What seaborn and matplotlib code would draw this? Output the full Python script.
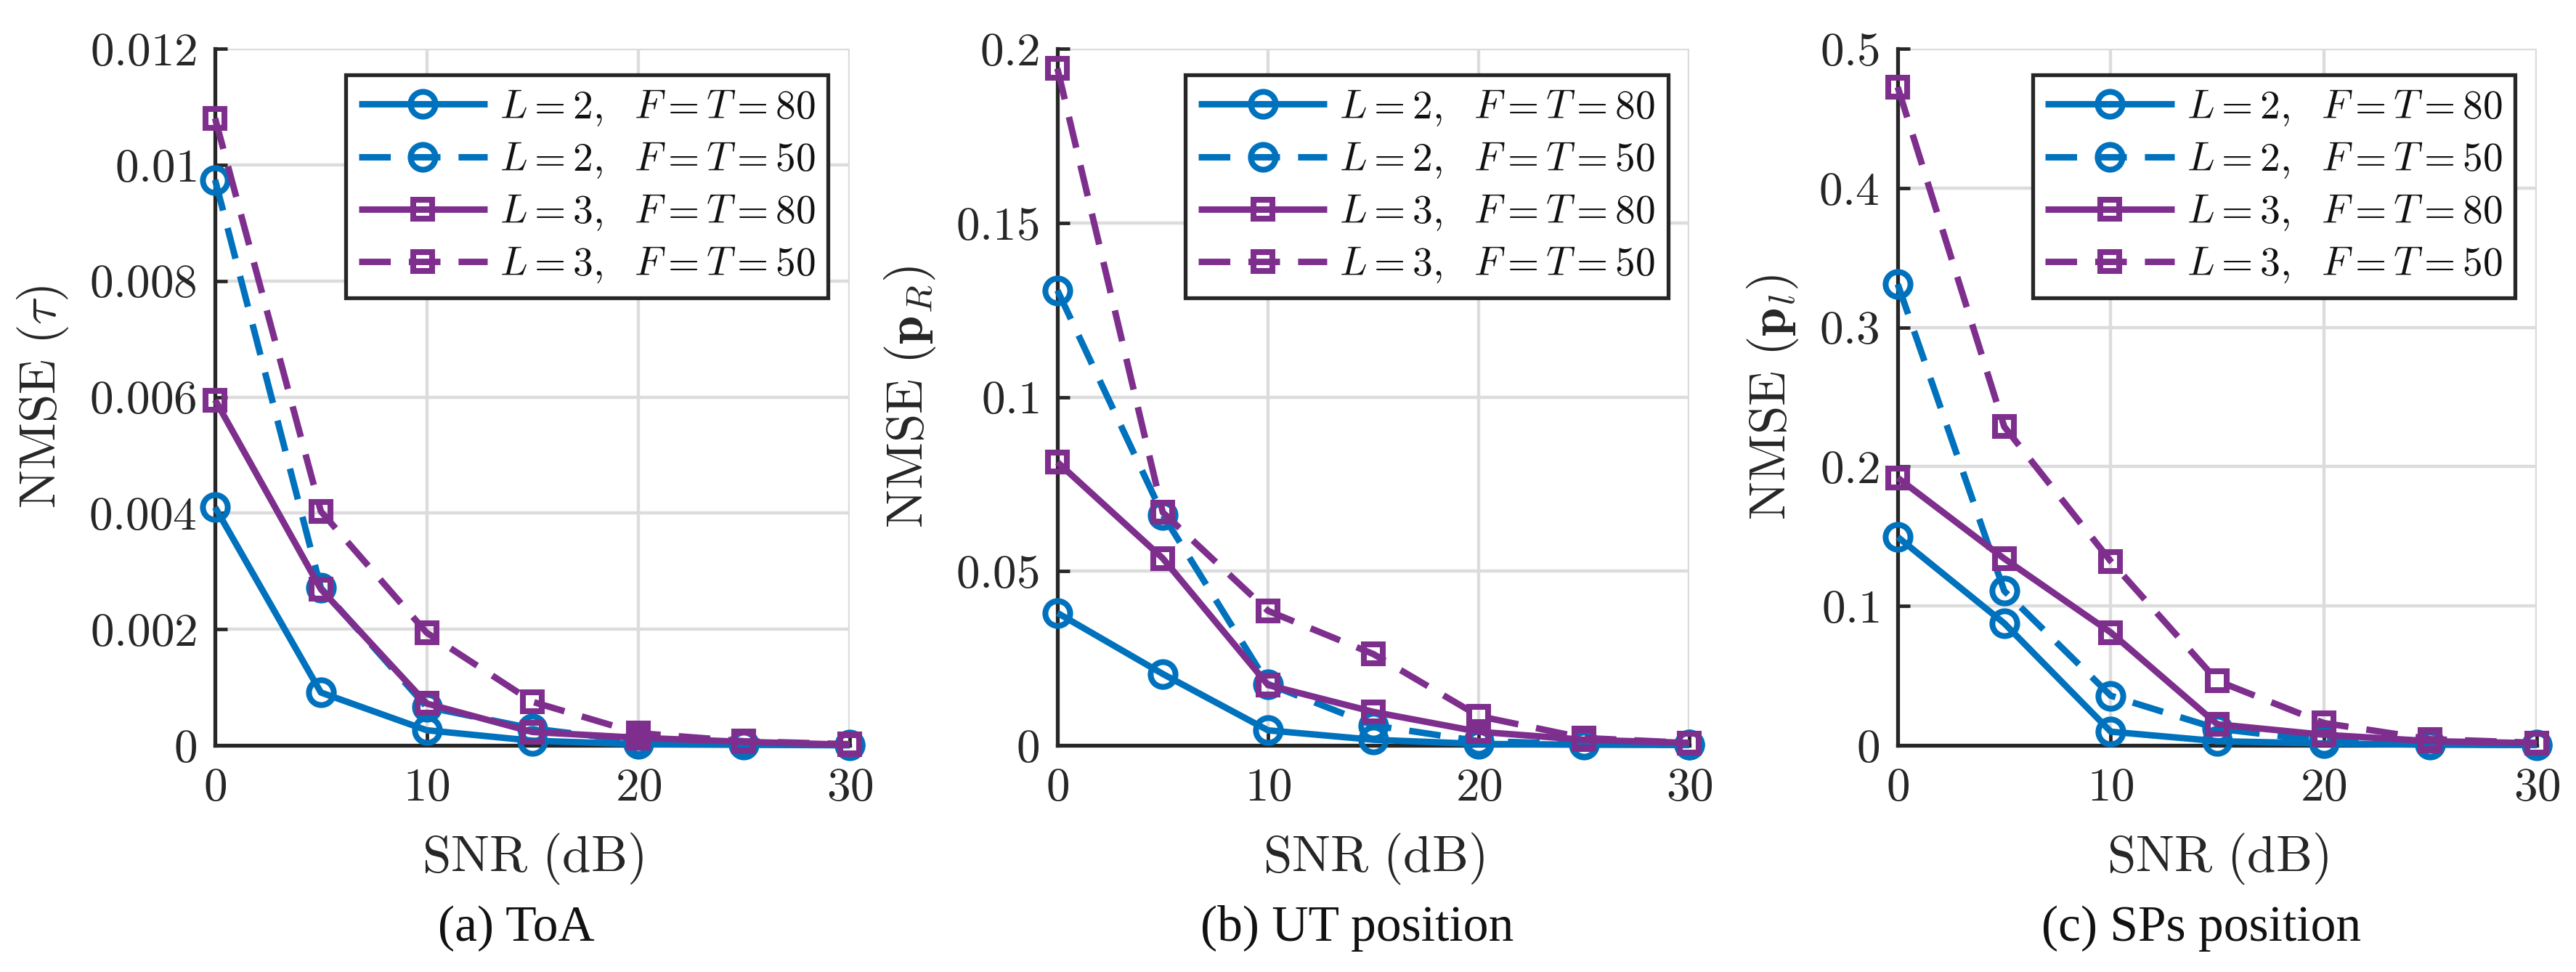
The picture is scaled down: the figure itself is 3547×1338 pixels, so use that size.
import numpy as np
import pandas as pd
import matplotlib
matplotlib.use('Agg')
import matplotlib.pyplot as plt
import seaborn as sns
from matplotlib.ticker import FuncFormatter

# SNR axis shared by all panels
snr = [0, 5, 10, 15, 20, 25, 30]

# (a) ToA
toa_l2_80 = [0.0041, 0.00091, 0.00026, 0.00008, 0.00002, 0.00001, 0.0]
toa_l2_50 = [0.00974, 0.00271, 0.00066, 0.00029, 0.00007, 0.00003, 0.00001]
toa_l3_80 = [0.00595, 0.00269, 0.00072, 0.00023, 0.00013, 0.00006, 0.00001]
toa_l3_50 = [0.0108, 0.00403, 0.00194, 0.00075, 0.00021, 0.00007, 0.00002]

# (b) UT position
ut_l2_80 = [0.038, 0.0205, 0.0043, 0.0016, 0.0004, 0.0002, 0.0001]
ut_l2_50 = [0.1306, 0.0662, 0.0176, 0.0057, 0.0012, 0.0004, 0.0002]
ut_l3_80 = [0.0813, 0.0537, 0.0173, 0.0096, 0.0039, 0.0016, 0.0007]
ut_l3_50 = [0.1943, 0.0669, 0.0386, 0.0262, 0.0084, 0.0021, 0.0007]

# (c) SPs position
sp_l2_80 = [0.1495, 0.0876, 0.0098, 0.003, 0.0013, 0.0005, 0.0002]
sp_l2_50 = [0.331, 0.1108, 0.0356, 0.012, 0.003, 0.001, 0.0003]
sp_l3_80 = [0.192, 0.134, 0.081, 0.0151, 0.0076, 0.003, 0.0015]
sp_l3_50 = [0.4724, 0.2287, 0.1321, 0.0463, 0.016, 0.0044, 0.0018]

labels = [r'$L=2,\ \ F=T=80$', r'$L=2,\ \ F=T=50$',
          r'$L=3,\ \ F=T=80$', r'$L=3,\ \ F=T=50$']

panels = [
    dict(series=[toa_l2_80, toa_l2_50, toa_l3_80, toa_l3_50], ymax=0.012,
         yticks=[0, 0.002, 0.004, 0.006, 0.008, 0.01, 0.012],
         ylabel=r'$\mathrm{NMSE}\ (\tau)$', caption='(a) ToA'),
    dict(series=[ut_l2_80, ut_l2_50, ut_l3_80, ut_l3_50], ymax=0.2,
         yticks=[0, 0.05, 0.1, 0.15, 0.2],
         ylabel=r'$\mathrm{NMSE}\ (\mathbf{p}_R)$', caption='(b) UT position'),
    dict(series=[sp_l2_80, sp_l2_50, sp_l3_80, sp_l3_50], ymax=0.5,
         yticks=[0, 0.1, 0.2, 0.3, 0.4, 0.5],
         ylabel=r'$\mathrm{NMSE}\ (\mathbf{p}_l)$', caption='(c) SPs position'),
]

blue = '#0072BD'
purple = '#7E2F8E'
dash = (4.9, 2.8)
styles = [
    dict(color=blue, marker='o', ms=12.3, dashes=(1, 0)),
    dict(color=blue, marker='o', ms=12.3, dashes=dash),
    dict(color=purple, marker='s', ms=9.7, dashes=(1, 0)),
    dict(color=purple, marker='s', ms=9.7, dashes=dash),
]

sns.set_theme(style='whitegrid')
plt.rcParams['font.family'] = ['Liberation Serif', 'DejaVu Serif']
plt.rcParams['mathtext.fontset'] = 'cm'
ink = '#262626'

fig = plt.figure(figsize=(17.735, 6.69), dpi=200)
positions = [[0.0835, 0.2332, 0.2464, 0.7167],
             [0.4105, 0.2332, 0.2453, 0.7167],
             [0.7367, 0.2332, 0.2481, 0.7167]]

for pos, p in zip(positions, panels):
    ax = fig.add_axes(pos)
    for vals, st, lab in zip(p['series'], styles, labels):
        df = pd.DataFrame({'snr': snr, 'nmse': vals})
        sns.lineplot(data=df, x='snr', y='nmse', ax=ax, color=st['color'],
                     marker=st['marker'], markersize=st['ms'],
                     markerfacecolor='none', markeredgecolor=st['color'],
                     markeredgewidth=2.9, linewidth=3.2, dashes=st['dashes'],
                     label=lab, clip_on=False, zorder=3)
    ax.set_xlim(0, 30)
    ax.set_ylim(0, p['ymax'])
    ax.set_xticks([0, 10, 20, 30])
    ax.set_yticks(p['yticks'])
    ax.xaxis.set_major_formatter(FuncFormatter(lambda v, _: f'${v:g}$'))
    ax.yaxis.set_major_formatter(FuncFormatter(lambda v, _: f'${v:g}$'))
    ax.grid(True, color='#dcdcdc', linewidth=1.6)
    for s in ['top', 'right']:
        ax.spines[s].set_visible(False)
    for s in ['left', 'bottom']:
        ax.spines[s].set_color(ink)
        ax.spines[s].set_linewidth(1.9)
    ax.tick_params(direction='in', length=6, width=1.7, colors=ink,
                   labelsize=23.5, left=True, bottom=True)
    ax.tick_params(axis='y', pad=9)
    ax.tick_params(axis='x', pad=11)
    ax.set_xlabel(r'$\mathrm{SNR\ (dB)}$', fontsize=25.5, color=ink, labelpad=10)
    ax.set_ylabel(p['ylabel'], fontsize=25.5, color=ink, labelpad=9)

    # legend boxed in the upper right, MATLAB style
    leg = ax.legend(loc='upper right', bbox_to_anchor=(0.966, 0.9625),
                    borderaxespad=0, fontsize=20, handlelength=3.2,
                    labelspacing=0.31, borderpad=0.32, handletextpad=0.3,
                    fancybox=False, framealpha=1, edgecolor=ink)
    leg.get_frame().set_linewidth(1.9)
    for t in leg.get_texts():
        t.set_color('#111111')

    fig.text(pos[0] + pos[2] / 2 - 22 / 3547, 1 - 1278 / 1338, p['caption'],
             ha='center', va='center', fontsize=25, color='#111111',
             family='Liberation Serif')

fig.savefig('out.png', dpi=200, facecolor='white')
